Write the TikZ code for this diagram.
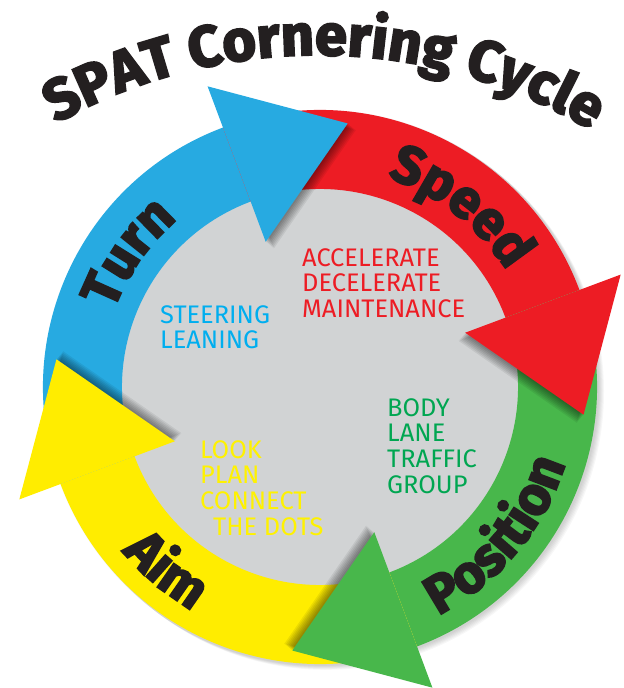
\documentclass[tikz,border=0pt]{standalone}
\usepackage{fontspec}
\usetikzlibrary{decorations.text}
\newfontfamily\heavyfont[FakeBold=3.5]{Fira Sans}
\newfontfamily\innerfont{Fira Sans}
\definecolor{ringblue}{RGB}{39,170,225}
\definecolor{ringred}{RGB}{237,28,36}
\definecolor{ringgreen}{RGB}{72,183,75}
\definecolor{ringyellow}{RGB}{255,237,0}
\definecolor{discgray}{RGB}{209,211,212}
\definecolor{txtblue}{RGB}{0,174,239}
\definecolor{txtred}{RGB}{237,28,36}
\definecolor{txtgreen}{RGB}{0,166,81}
\definecolor{txtyellow}{RGB}{255,242,0}
\definecolor{inkdark}{RGB}{35,31,32}
\newcommand\RingBand[3]{%
  \fill[#1] (#2:277bp) arc[start angle=#2, end angle=#3, radius=277bp]
    -- (#3:198bp) arc[start angle=#3, end angle=#2, radius=198bp] -- cycle;}
\newcommand\RingHead[2]{%
  \fill[#1] (#2:155bp) -- ({#2-26.5}:265bp) -- (#2:321bp) -- cycle;}
\newcommand\RingHeadShadow[1]{%
  \foreach \k in {1,...,7}{%
    \fill[black, opacity=0.07, shift={({#1-150}:{1.5*\k})}]
      (#1:155bp) -- ({#1-26.5}:265bp) -- (#1:321bp) -- cycle;}}
\tikzset{
  ringlabel/.style={decorate, decoration={text along path, text align=center,
      text color=inkdark,
      text={|\heavyfont\bfseries\fontsize{54}{54}\selectfont|#1}}},
  titlelabel/.style={decorate, decoration={text along path, text align=center,
      text color=inkdark,
      text={|\heavyfont\bfseries\fontsize{58}{58}\selectfont|#1}}},
  innertext/.style={anchor=north west, inner sep=0pt, align=left,
      font=\innerfont\fontsize{25.5}{26}\selectfont},
}
\begin{document}
\begin{tikzpicture}[x=1bp,y=1bp]
\fill[white] (-320,-301) rectangle (304,387);
\useasboundingbox (-320,-301) rectangle (304,387);
% soft shadow of the ring
\foreach \k in {1,...,6}{%
  \fill[black, opacity=0.03, shift={(1.0*\k,-0.8*\k)}] (0,0) circle[radius=278bp];}
% grey disc
\fill[discgray] (0,0) circle[radius=200bp];
% bands
\RingBand{ringblue}{200.5}{110.5}
\RingBand{ringred}{110.5}{20.5}
\RingBand{ringgreen}{20.5}{-69.5}
\RingBand{ringyellow}{-69.5}{-159.5}
% head shadows
\RingHeadShadow{110.5}
\RingHeadShadow{20.5}
\RingHeadShadow{-69.5}
\RingHeadShadow{200.5}
% heads
\RingHead{ringblue}{110.5}
\RingHead{ringred}{20.5}
\RingHead{ringgreen}{-69.5}
\RingHead{ringyellow}{200.5}
% title
\path[titlelabel={SPAT Cornering Cycle}]
  (-2,-203) ++(129.3:535bp) arc[start angle=129.3, end angle=49.3, radius=535bp];
% ring labels
\path[ringlabel={Turn}] (175:220bp) arc[start angle=175, end angle=115, radius=220bp];
\path[ringlabel={Speed}] (85:220bp) arc[start angle=85, end angle=19, radius=220bp];
\path[ringlabel={Position}] (-85:257bp) arc[start angle=-85, end angle=5, radius=257bp];
\path[ringlabel={Aim}] (185:257bp) arc[start angle=185, end angle=275, radius=257bp];
% inner texts
\node[innertext, text=txtred] (speedtxt) at (-18,139) {ACCELERATE\\DECELERATE\\MAINTENANCE};
\node[innertext, text=txtblue] (turntxt) at (-160,82) {STEERING\\LEANING};
\node[innertext, text=txtgreen] (positiontxt) at (67,-11) {BODY\\LANE\\TRAFFIC\\GROUP};
\node[innertext, text=txtyellow] (aimtxt) at (-120,-53) {LOOK\\PLAN\\CONNECT\\\hspace*{13bp}THE DOTS};
\end{tikzpicture}
\end{document}
